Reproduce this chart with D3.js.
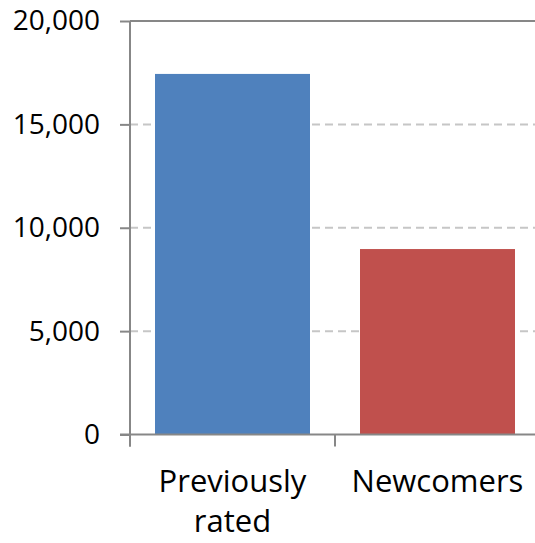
<!DOCTYPE html>
<html>
<head>
<meta charset="utf-8">
<script src="https://cdn.jsdelivr.net/npm/d3@7"></script>
<style>
  html, body { margin: 0; padding: 0; background: #fff; }
  svg { display: block; }
</style>
</head>
<body>
<svg id="chart" width="535" height="543"></svg>
<script>
const categories = ["Previously rated", "Newcomers"];
const categoryLines = [["Previously", "rated"], ["Newcomers"]];
const values = [17440, 8970];
const barColors = ["#4f81bd", "#c0504d"];
const yTicks = [0, 5000, 10000, 15000, 20000];

(function () {
const svg = d3.select("#chart");
const plotLeft = 130, plotRight = 540, plotTop = 21, plotBottom = 434.5;

const y = d3.scaleLinear().domain([0, 20000]).range([plotBottom, plotTop]);
const x = d3.scaleBand().domain(categories).range([plotLeft, plotRight])
  .paddingInner(50 / 205).paddingOuter(25 / 205);

// gridlines
svg.append("g").selectAll("line")
  .data(yTicks.filter(d => d > 0))
  .join("line")
  .attr("x1", plotLeft).attr("x2", 535)
  .attr("y1", d => y(d)).attr("y2", d => y(d))
  .attr("stroke", d => d === 20000 ? "#878787" : "#c6c6c6")
  .attr("stroke-width", 2)
  .attr("stroke-dasharray", d => d === 20000 ? null : "8,5");

// bars
svg.append("g").selectAll("rect")
  .data(values)
  .join("rect")
  .attr("x", (d, i) => x(categories[i]))
  .attr("width", x.bandwidth())
  .attr("y", d => y(d))
  .attr("height", d => y(0) - y(d))
  .attr("fill", (d, i) => barColors[i]);

// y axis
const yAxis = d3.axisLeft(y).tickValues(yTicks).tickSize(10).tickPadding(20)
  .tickFormat(d3.format(","));
const gy = svg.append("g").attr("transform", `translate(${plotLeft},0)`).call(yAxis);
gy.select(".domain").remove();
gy.selectAll(".tick line").attr("stroke", "#878787").attr("stroke-width", 2);
gy.selectAll(".tick text")
  .attr("fill", "#000")
  .style("font-family", "'Open Sans', sans-serif")
  .style("font-size", "28px");
svg.append("line")
  .attr("x1", plotLeft).attr("x2", plotLeft)
  .attr("y1", plotTop).attr("y2", plotBottom + 12)
  .attr("stroke", "#878787").attr("stroke-width", 2);

// x axis
svg.append("line")
  .attr("x1", plotLeft - 10).attr("x2", plotRight)
  .attr("y1", plotBottom).attr("y2", plotBottom)
  .attr("stroke", "#878787").attr("stroke-width", 2);
const boundaries = d3.range(categories.length + 1).map(i => plotLeft + i * x.step());
svg.append("g").selectAll("line")
  .data(boundaries)
  .join("line")
  .attr("x1", d => d).attr("x2", d => d)
  .attr("y1", plotBottom).attr("y2", plotBottom + 12)
  .attr("stroke", "#878787").attr("stroke-width", 2);

// category labels
const labels = svg.append("g").selectAll("text")
  .data(categories)
  .join("text")
  .attr("text-anchor", "middle")
  .attr("fill", "#000")
  .style("font-family", "'Open Sans', sans-serif")
  .style("font-size", "31px")
  .attr("x", d => x(d) + x.bandwidth() / 2)
  .attr("y", 492);
labels.each(function (d, i) {
  const t = d3.select(this);
  categoryLines[i].forEach((line, j) => {
    t.append("tspan")
      .attr("x", x(d) + x.bandwidth() / 2)
      .attr("dy", j === 0 ? 0 : 40)
      .text(line);
  });
});
})();
</script>
</body>
</html>
